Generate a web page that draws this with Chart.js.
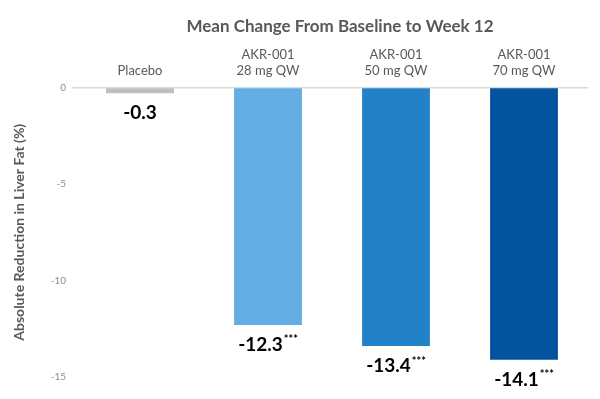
<!DOCTYPE html>
<html>
<head>
<meta charset="utf-8">
<script src="https://cdn.jsdelivr.net/npm/chart.js@4.4.1/dist/chart.umd.min.js"></script>
<style>
  body { margin: 0; background: #fff; }
  #wrap { width: 600px; height: 399px; position: relative; }
</style>
</head>
<body>
<div id="wrap"><canvas id="myChart"></canvas></div>
<script>
const categories = [['Placebo'], ['AKR-001', '28 mg QW'], ['AKR-001', '50 mg QW'], ['AKR-001', '70 mg QW']];
const values = [-0.3, -12.3, -13.4, -14.1];
const stars = ['', '***', '***', '***'];
const barColors = ['#BFBFBF', '#62ADE3', '#2381C7', '#0253A0'];
const yTicks = [0, -5, -10, -15];

const FONT = 'Lato, "Open Sans", sans-serif';

// value labels under each bar, with superscript stars
const valueLabels = {
  id: 'valueLabels',
  afterDatasetsDraw(chart) {
    const ctx = chart.ctx;
    const meta = chart.getDatasetMeta(0);
    ctx.save();
    ctx.fillStyle = '#000';
    ctx.textBaseline = 'middle';
    ctx.textAlign = 'left';
    meta.data.forEach((bar, i) => {
      const main = values[i].toFixed(1);
      ctx.font = 'bold 19px ' + FONT;
      const w1 = ctx.measureText(main).width;
      ctx.font = 'bold 11px ' + FONT;
      const w2 = stars[i] ? ctx.measureText(stars[i]).width + 1 : 0;
      const x0 = bar.x - (w1 + w2) / 2;
      const y = bar.y + 20;
      ctx.font = 'bold 19px ' + FONT;
      ctx.fillText(main, x0, y);
      if (stars[i]) {
        ctx.font = 'bold 11px ' + FONT;
        ctx.fillText(stars[i], x0 + w1 + 1, y - 5);
      }
    });
    ctx.restore();
  }
};

// chart title, centred over the plot area
const titleText = {
  id: 'titleText',
  afterDraw(chart) {
    const ctx = chart.ctx;
    const a = chart.chartArea;
    ctx.save();
    ctx.font = 'bold 17px ' + FONT;
    ctx.fillStyle = '#595959';
    ctx.textAlign = 'center';
    ctx.textBaseline = 'middle';
    ctx.fillText('Mean Change From Baseline to Week 12', (a.left + a.right) / 2 + 8, 27);
    ctx.restore();
  }
};

new Chart(document.getElementById('myChart'), {
  type: 'bar',
  data: {
    labels: categories,
    datasets: [{
      data: values,
      backgroundColor: barColors,
      barPercentage: 0.53,
      categoryPercentage: 1
    }]
  },
  options: {
    responsive: true,
    maintainAspectRatio: false,
    animation: false,
    layout: { padding: { top: 47, right: 12, bottom: 22, left: 0 } },
    plugins: {
      legend: { display: false },
      tooltip: { enabled: false }
    },
    scales: {
      x: {
        position: 'top',
        grid: { display: false, drawTicks: false },
        border: { display: false },
        ticks: {
          color: '#595959',
          font: { family: FONT, size: 13 },
          padding: 9,
          maxRotation: 0
        },
        afterFit(scale) { scale.height = 40.5; }
      },
      y: {
        min: -15,
        max: 0,
        afterBuildTicks(scale) { scale.ticks = yTicks.map(v => ({ value: v })); },
        grid: {
          color: c => (c.tick && c.tick.value === 0 ? '#D9D9D9' : 'rgba(0,0,0,0)'),
          lineWidth: 1.5,
          drawTicks: true,
          tickLength: 4
        },
        border: { display: false },
        ticks: {
          color: '#8C8C8C',
          font: { family: FONT, size: 10 },
          padding: 6
        },
        title: {
          display: true,
          text: 'Absolute Reduction in Liver Fat (%)',
          color: '#595959',
          font: { family: FONT, size: 14, weight: 'bold' },
          padding: { top: 11, bottom: 0 }
        },
        afterFit(scale) { scale.width = 76; }
      }
    }
  },
  plugins: [valueLabels, titleText]
});
</script>
</body>
</html>
